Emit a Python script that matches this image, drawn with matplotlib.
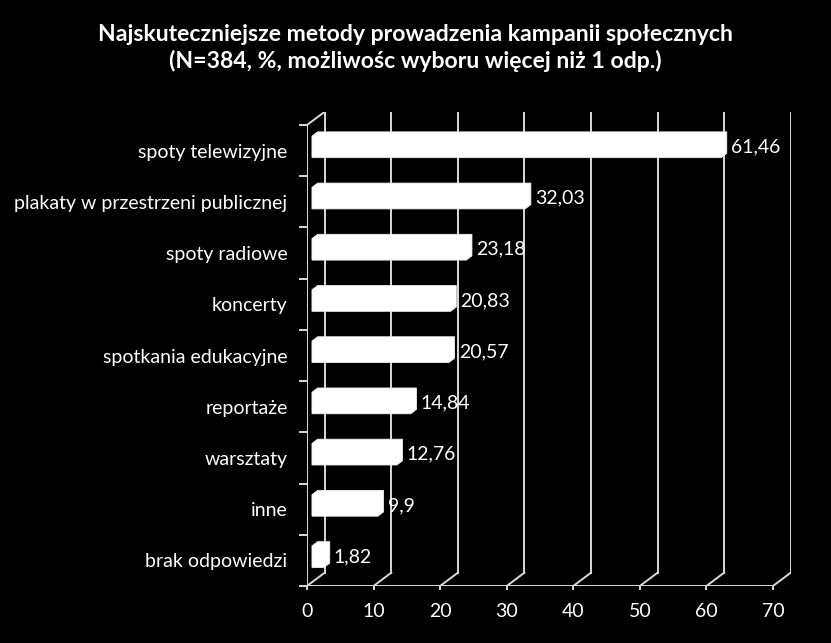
import numpy as np
import matplotlib.pyplot as plt
from matplotlib.patches import Polygon

# dane z wykresu (od góry do dołu)
categories = ['spoty telewizyjne', 'plakaty w przestrzeni publicznej', 'spoty radiowe',
              'koncerty', 'spotkania edukacyjne', 'reportaże', 'warsztaty', 'inne',
              'brak odpowiedzi']
values = [61.46, 32.03, 23.18, 20.83, 20.57, 14.84, 12.76, 9.9, 1.82]
labels = ['61,46', '32,03', '23,18', '20,83', '20,57', '14,84', '12,76', '9,9', '1,82']
xticks = [0, 10, 20, 30, 40, 50, 60, 70]

title = ('Najskuteczniejsze metody prowadzenia kampanii społecznych\n'
         '(N=384, %, możliwośc wyboru więcej niż 1 odp.)')

plt.rcParams['font.family'] = ['Lato', 'DejaVu Sans']

line_col = '#d9d9d9'
XMAX = 70
DX = 2.66   # głębokość ściany tylnej (jednostki osi x)
DY = 0.26   # głębokość ściany tylnej (jednostki kategorii)
F1, F2 = 0.28, 0.60  # przód i tył słupka (ułamek głębokości)
H = 0.21    # połowa wysokości słupka

fig = plt.figure(figsize=(8.31, 6.43), dpi=100, facecolor='black')
ax = fig.add_axes([307 / 831, 1 - 586 / 643, (790.7 - 307) / 831, (586 - 111.7) / 643])
ax.set_facecolor('black')
for s in ax.spines.values():
    s.set_visible(False)

n = len(categories)
ypos = np.arange(n)[::-1]  # pierwsza kategoria na górze
ax.set_xlim(0, XMAX + DX)
ax.set_ylim(-0.5, n - 0.5 + DY)

# tylna ściana - linie siatki i podłoga
for t in xticks:
    ax.plot([t + DX, t + DX], [-0.5 + DY, n - 0.5 + DY], color=line_col, lw=1.4, zorder=1)
    ax.plot([t, t + DX], [-0.5, -0.5 + DY], color=line_col, lw=1.4, zorder=1)
ax.plot([0, DX], [n - 0.5, n - 0.5 + DY], color=line_col, lw=1.4, zorder=1)

# osie przednie
ax.plot([0, 0], [-0.5, n - 0.5], color=line_col, lw=1.4, zorder=3)
ax.plot([0, XMAX], [-0.5, -0.5], color=line_col, lw=1.4, zorder=3)

# słupki 3D
for y, v, lab in zip(ypos, values, labels):
    x0f, x1f = F1 * DX, v + F1 * DX
    x0b, x1b = F2 * DX, v + F2 * DX
    yc_f = y + F1 * DY
    yc_b = y + F2 * DY
    pts = [(x0f, yc_f - H), (x0f, yc_f + H), (x0b, yc_b + H),
           (x1b, yc_b + H), (x1b, yc_b - H), (x1f, yc_f - H)]
    ax.add_patch(Polygon(pts, closed=True, facecolor='white', edgecolor='#f2f2f2',
                         lw=0.6, zorder=4))
    ax.annotate(lab, xy=(x1b, (yc_f + yc_b) / 2), xytext=(3, -1.5), textcoords='offset points',
                ha='left', va='center', color='white', fontsize=14, zorder=5)

# osie - znaczniki i etykiety
ax.set_xticks(xticks)
ax.set_xticklabels([str(t) for t in xticks])
ax.tick_params(axis='x', colors=line_col, labelcolor='white', labelsize=14,
               direction='out', length=3, width=1.4, pad=9)
ax.set_yticks(ypos)
ax.set_yticklabels(categories)
ax.set_yticks(np.arange(n + 1) - 0.5, minor=True)
ax.tick_params(axis='y', which='major', length=0, labelcolor='white', labelsize=14, pad=14)
ax.tick_params(axis='y', which='minor', colors=line_col, direction='out', length=5.5, width=1.4)

fig.text(0.5, 1 - 48 / 643, title, ha='center', va='center', color='white',
         fontsize=16.6, fontweight='bold', linespacing=1.3)

fig.savefig('out.png', dpi=100, facecolor='black')
